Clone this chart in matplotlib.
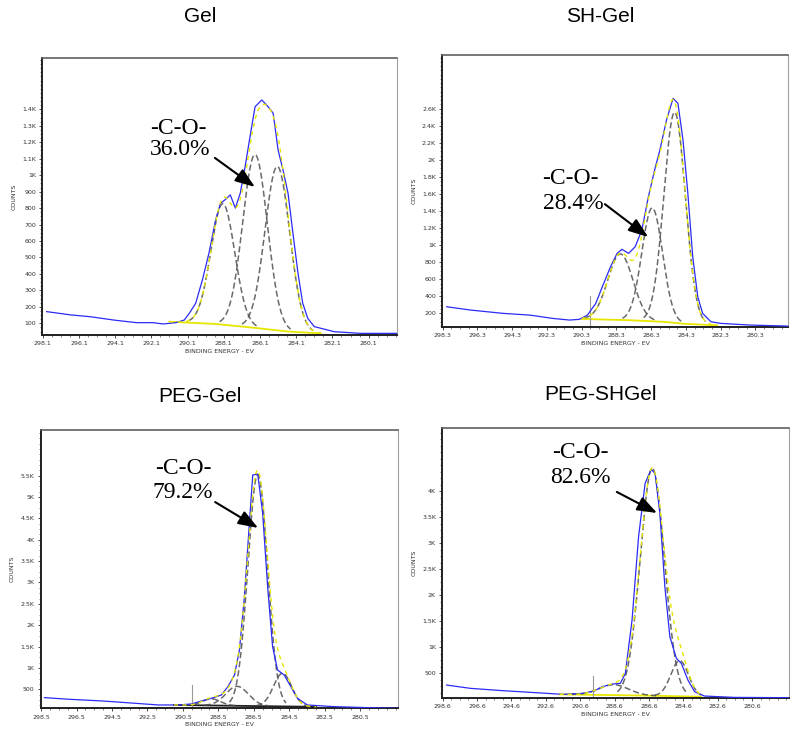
import numpy as np
import matplotlib
matplotlib.use("Agg")
import matplotlib.pyplot as plt
from matplotlib.ticker import FixedLocator, FixedFormatter, AutoMinorLocator

# ---------------- data ----------------
titles = ["Gel", "SH-Gel", "PEG-Gel", "PEG-SHGel"]
co_labels = ["36.0%", "28.4%", "79.2%", "82.6%"]

# Gel
gel_x = [297.88, 296.55, 295.46, 294.19, 292.92, 292.0, 291.46, 290.74, 290.28, 290.0, 289.65,
         289.28, 288.92, 288.55, 288.28, 288.0, 287.74, 287.46, 287.19, 286.92, 286.65, 286.37,
         286.0, 285.65, 285.37, 285.1, 284.83, 284.55, 284.28, 284.0, 283.74, 283.46, 283.1,
         282.0, 280.55, 278.55]
gel_y = [171, 151, 140, 120, 104, 104, 96, 104, 120, 161, 222,
         363, 525, 728, 829, 853, 880, 800, 890, 1052, 1234, 1416,
         1457, 1416, 1376, 1153, 1032, 890, 647, 404, 222, 130, 80,
         49, 39, 39]
gel_bg_x = [291.1, 288.55, 286.7, 284.55, 282.75]
gel_bg_y = [110, 96, 76, 50, 39]
gel_pk_c = [288.15, 286.37, 285.14]
gel_pk_h = [735, 1053, 996]
gel_pk_w = [1.55, 1.6, 1.6]
gel_yticks = [100, 200, 300, 400, 500, 600, 700, 800, 900, 1000, 1100, 1200, 1300, 1400]
gel_ylabels = ["100", "200", "300", "400", "500", "600", "700", "800", "900", "1K",
               "1.1K", "1.2K", "1.3K", "1.4K"]
gel_xticks = [298.1, 296.1, 294.1, 292.1, 290.1, 288.1, 286.1, 284.1, 282.1, 280.1]

# SH-Gel
sh_x = [298.07, 296.69, 294.8, 293.28, 291.96, 291.0, 290.44, 289.97, 289.49, 289.11, 288.64,
        288.26, 287.98, 287.6, 287.22, 286.84, 286.46, 286.08, 285.8, 285.42, 285.04, 284.76,
        284.47, 284.19, 283.91, 283.62, 283.34, 282.86, 282.3, 280.59, 278.41]
sh_y = [278, 239, 200, 180, 141, 122, 130, 180, 317, 513, 747,
        904, 951, 904, 982, 1177, 1568, 1900, 2115, 2467, 2721, 2663,
        2233, 1607, 865, 395, 200, 102, 83, 63, 51]
sh_bg_x = [290.3, 287.5, 285.5, 284.4, 282.5]
sh_bg_y = [135, 120, 100, 78, 60]
sh_pk_c = [288.07, 286.24, 284.95]
sh_pk_h = [774, 1330, 2470]
sh_pk_w = [1.7, 1.4, 1.45]
sh_yticks = [200, 400, 600, 800, 1000, 1200, 1400, 1600, 1800, 2000, 2200, 2400, 2600]
sh_ylabels = ["200", "400", "600", "800", "1K", "1.2K", "1.4K", "1.6K", "1.8K", "2K",
              "2.2K", "2.4K", "2.6K"]
sh_xticks = [298.3, 296.3, 294.3, 292.3, 290.3, 288.3, 286.3, 284.3, 282.3, 280.3]

# PEG-Gel
peg_x = [298.31, 296.9, 295.05, 293.18, 291.88, 290.76, 290.01, 289.45, 288.89, 288.33, 287.96,
         287.59, 287.31, 287.03, 286.75, 286.56, 286.28, 286.0, 285.72, 285.44, 285.16, 284.79,
         284.41, 284.04, 283.48, 281.99, 280.12, 278.35]
peg_y = [305, 266, 227, 172, 133, 133, 157, 227, 289, 367, 562,
         835, 1420, 2668, 4384, 5516, 5539, 4619, 2903, 1498, 952, 835,
         562, 289, 133, 94, 71, 55]
peg_bg_x = [291.0, 286.0, 283.0]
peg_bg_y = [133, 105, 90]
peg_pk_c = [288.89, 287.44, 286.28, 284.88]
peg_pk_h = [156, 456, 5420, 775]
peg_pk_w = [1.2, 1.5, 1.3, 1.2]
peg_yticks = [500, 1000, 1500, 2000, 2500, 3000, 3500, 4000, 4500, 5000, 5500]
peg_ylabels = ["500", "1K", "1.5K", "2K", "2.5K", "3K", "3.5K", "4K", "4.5K", "5K", "5.5K"]
peg_xticks = [298.5, 296.5, 294.5, 292.5, 290.5, 288.5, 286.5, 284.5, 282.5, 280.5]

# PEG-SHGel
pegsh_x = [298.37, 296.97, 295.06, 293.14, 291.61, 290.46, 289.79, 289.31, 288.73, 288.26, 287.97,
           287.58, 287.2, 286.82, 286.47, 286.24, 285.96, 285.67, 285.38, 285.0, 284.71, 284.33,
           283.94, 283.37, 281.65, 278.43]
pegsh_y = [276, 212, 167, 129, 97, 116, 161, 244, 295, 308, 500,
           1524, 3125, 4149, 4418, 4341, 3573, 2164, 1204, 788, 692, 372,
           148, 65, 39, 33]
pegsh_bg_x = [291.8, 287.0, 283.56]
pegsh_bg_y = [97, 75, 52]
pegsh_pk_c = [288.64, 286.4, 284.81]
pegsh_pk_h = [200, 4366, 684]
pegsh_pk_w = [2.0, 1.65, 1.2]
pegsh_yticks = [500, 1000, 1500, 2000, 2500, 3000, 3500, 4000]
pegsh_ylabels = ["500", "1K", "1.5K", "2K", "2.5K", "3K", "3.5K", "4K"]
pegsh_xticks = [298.6, 296.6, 294.6, 292.6, 290.6, 288.6, 286.6, 284.6, 282.6, 280.6]

# vertical fit-region markers (eV, top counts)
marker_x = [None, 289.8, 290.0, 289.85]
marker_top = [None, 400, 600, 450]

panels = [
    dict(x=gel_x, y=gel_y, bgx=gel_bg_x, bgy=gel_bg_y, c=gel_pk_c, h=gel_pk_h, w=gel_pk_w,
         yt=gel_yticks, yl=gel_ylabels, xt=gel_xticks, xlim=(298.12, 278.55), ylim=(29, 1710)),
    dict(x=sh_x, y=sh_y, bgx=sh_bg_x, bgy=sh_bg_y, c=sh_pk_c, h=sh_pk_h, w=sh_pk_w,
         yt=sh_yticks, yl=sh_ylabels, xt=sh_xticks, xlim=(298.32, 278.41), ylim=(44, 3230)),
    dict(x=peg_x, y=peg_y, bgx=peg_bg_x, bgy=peg_bg_y, c=peg_pk_c, h=peg_pk_h, w=peg_pk_w,
         yt=peg_yticks, yl=peg_ylabels, xt=peg_xticks, xlim=(298.52, 278.35), ylim=(55, 6570)),
    dict(x=pegsh_x, y=pegsh_y, bgx=pegsh_bg_x, bgy=pegsh_bg_y, c=pegsh_pk_c, h=pegsh_pk_h,
         w=pegsh_pk_w, yt=pegsh_yticks, yl=pegsh_ylabels, xt=pegsh_xticks,
         xlim=(298.62, 278.43), ylim=(33, 5218)),
]

# ---------------- layout ----------------
W, H = 800, 741
axes_px = [(42.3, 58.3, 396.7, 335.0), (442.3, 55.0, 788.3, 326.7),
           (40.7, 430.0, 398.3, 708.3), (442.3, 427.7, 789.3, 697.7)]
title_px = [(200, 17), (600, 17), (200, 396), (600, 394)]
text_pos = [((0.383, 0.748), (0.389, 0.669), (0.487, 0.640), (0.600, 0.535)),
            ((0.369, 0.547), (0.378, 0.455), (0.470, 0.451), (0.595, 0.330)),
            ((0.398, 0.863), (0.398, 0.774), (0.488, 0.741), (0.608, 0.648)),
            ((0.397, 0.910), (0.397, 0.817), (0.503, 0.762), (0.619, 0.684))]

BLUE = "#2b2bf5"
YELLOW = "#e6e600"
COMP = "#505050"

def gauss(x, c, h, fwhm):
    s = fwhm / 2.3548
    return h * np.exp(-0.5 * ((x - c) / s) ** 2)

fig = plt.figure(figsize=(W / 100, H / 100), dpi=100)
fig.patch.set_facecolor("white")

for i, p in enumerate(panels):
    l, t, r, b = axes_px[i]
    ax = fig.add_axes([l / W, 1 - b / H, (r - l) / W, (b - t) / H])
    ax.set_xlim(*p["xlim"])
    ax.set_ylim(*p["ylim"])

    # background and components
    bgx = np.array(p["bgx"])
    xs = np.linspace(bgx.max(), bgx.min(), 600)
    bg = np.interp(xs, bgx[::-1], np.array(p["bgy"])[::-1])
    env = bg.copy()
    for c, h, w in zip(p["c"], p["h"], p["w"]):
        g = gauss(xs, c, h, w)
        env += g
        m = g > 0.015 * h
        ax.plot(xs[m], (bg + g)[m], color=COMP, lw=1.1, ls=(0, (4, 2)), alpha=0.85, zorder=3)
    ax.plot(p["bgx"], p["bgy"], color=YELLOW if i != 2 else "#202020",
            lw=1.3, zorder=2)

    # measured spectrum
    ax.plot(p["x"], p["y"], color=BLUE, lw=0.9, zorder=4)
    # fitted envelope
    ax.plot(xs, env, color=YELLOW, lw=1.0, ls=(0, (3, 3)), zorder=5)

    if marker_x[i] is not None:
        ax.plot([marker_x[i], marker_x[i]], [p["ylim"][0], marker_top[i]],
                color="#999999", lw=0.8, zorder=2)

    # ticks
    ax.yaxis.set_major_locator(FixedLocator(p["yt"]))
    ax.yaxis.set_major_formatter(FixedFormatter(p["yl"]))
    ax.xaxis.set_major_locator(FixedLocator(p["xt"]))
    ax.xaxis.set_major_formatter(FixedFormatter([f"{v:.1f}" for v in p["xt"]]))
    ax.xaxis.set_minor_locator(AutoMinorLocator(4))
    ax.yaxis.set_minor_locator(AutoMinorLocator(4))
    ax.tick_params(axis="both", which="major", labelsize=4.5, length=2.5, width=0.6,
                   colors="#333333", pad=2)
    ax.tick_params(axis="both", which="minor", length=1.3, width=0.5, colors="#555555")
    ax.tick_params(top=False, right=False)
    for s in ("left", "bottom"):
        ax.spines[s].set_linewidth(1.4)
        ax.spines[s].set_color("#202020")
    ax.spines["top"].set_linewidth(1.2)
    ax.spines["top"].set_color("#606060")
    ax.spines["right"].set_linewidth(0.8)
    ax.spines["right"].set_color("#a0a0a0")
    ax.set_xlabel("BINDING ENERGY - EV", fontsize=4.5, color="#333333", labelpad=2)
    ax.set_ylabel("COUNTS", fontsize=4.5, color="#333333", labelpad=4)

    # annotation
    (tx1, ty1), (tx2, ty2), (ax0, ay0), (ax1, ay1) = text_pos[i]
    ax.text(tx1, ty1, "-C-O-", transform=ax.transAxes, ha="center", va="center",
            fontsize=17, family="Liberation Serif", zorder=10)
    ax.text(tx2, ty2, co_labels[i], transform=ax.transAxes, ha="center", va="center",
            fontsize=17, family="Liberation Serif", zorder=10)
    ax.annotate("", xy=(ax1, ay1), xytext=(ax0, ay0), xycoords="axes fraction",
                textcoords="axes fraction",
                arrowprops=dict(arrowstyle="-|>,head_length=0.6,head_width=0.22",
                                color="black", lw=1.5,
                                mutation_scale=20, shrinkA=0, shrinkB=0), zorder=10)

    tx, ty = title_px[i]
    fig.text(tx / W, 1 - ty / H, titles[i], ha="center", va="center", fontsize=15,
             family="Liberation Sans")

fig.savefig("out.png", dpi=100, facecolor="white")
